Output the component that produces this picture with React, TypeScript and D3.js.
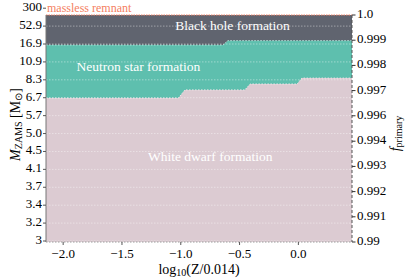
import * as d3 from "d3";

// metallicity breakpoints (log10(Z/0.014)) and upper f_primary edge of each remnant region
const wdLogZ = [-2.146, -1.02, -0.965, -0.455, -0.41, -0.01, 0.03, 0.456];
const wdMaxF = [0.99634, 0.99634, 0.9967, 0.9967, 0.99696, 0.99696, 0.99722, 0.99722];
const nsLogZ = [-2.146, -0.64, -0.6, 0.456];
const nsMaxF = [0.99868, 0.99868, 0.99887, 0.99887];

const xTicks = [-2.0, -1.5, -1.0, -0.5, 0.0];
const massLabels = ["3", "3.2", "3.4", "3.7", "4.1", "4.5", "5.0", "5.7", "6.7", "8.3", "10.9", "16.9", "52.9", "300"];
const fTicks = [0.99, 0.99111, 0.99222, 0.99333, 0.99444, 0.99556, 0.99667, 0.99778, 0.99889, 1.0];
const fLabels = ["0.99", "0.991", "0.992", "0.993", "0.994", "0.996", "0.997", "0.998", "0.999", "1.0"];

const width = 407;
const height = 279;
const margin = { top: 15, right: 55, bottom: 37, left: 46 };
const tf = { fontFamily: "'Liberation Serif', serif" };

const App = () => {
  const x = d3
    .scaleLinear()
    .domain([-2.146, 0.456])
    .range([margin.left, width - margin.right]);
  const y = d3
    .scaleLinear()
    .domain([0.99, 1.0])
    .range([height - margin.bottom, margin.top]);
  const yMass = d3
    .scalePoint()
    .domain(massLabels)
    .range([y(0.99) - 1, y(1.0003)]);

  const wdArea = d3
    .area<number>()
    .x((_, i) => x(wdLogZ[i]))
    .y0(y(0.99))
    .y1((d) => y(d));
  const nsArea = d3
    .area<number>()
    .x((_, i) => x(nsLogZ[i]))
    .y0(y(0.99))
    .y1((d) => y(d));
  const wdLine = d3
    .line<number>()
    .x((_, i) => x(wdLogZ[i]))
    .y((d) => y(d));
  const nsLine = d3
    .line<number>()
    .x((_, i) => x(nsLogZ[i]))
    .y((d) => y(d));

  const [x0, x1] = x.range();

  return (
    <svg
      width={width}
      height={height}
      style={{ position: "absolute", left: 0, top: 0, background: "white" }}
    >
      {/* black hole region fills everything, others drawn above */}
      <rect x={x0} y={y(1.0)} width={x1 - x0} height={y(0.99) - y(1.0)} fill="#60646f" />
      <path d={nsArea(nsMaxF) || ""} fill="#5ebfae" />
      <path d={wdArea(wdMaxF) || ""} fill="#dccbd2" />

      {/* faint grid at mass ticks */}
      {massLabels.slice(0, -1).map((m) => (
        <line
          key={"g" + m}
          x1={x0}
          x2={x1}
          y1={yMass(m)}
          y2={yMass(m)}
          stroke="#ffffff"
          strokeOpacity={0.4}
          strokeDasharray="1.5,1.5"
        />
      ))}

      <path d={nsLine(nsMaxF) || ""} fill="none" stroke="#b9e6dd" strokeDasharray="1.5,1.5" />
      <path d={wdLine(wdMaxF) || ""} fill="none" stroke="#efe6ea" strokeDasharray="1.5,1.5" />
      <line x1={x0} x2={x1} y1={y(1.0)} y2={y(1.0)} stroke="#f4866a" strokeDasharray="1.5,1" />

      {/* spines */}
      <line x1={x0} x2={x0} y1={y(1.0)} y2={y(0.99)} stroke="#777" />
      <line x1={x1} x2={x1} y1={y(1.0)} y2={y(0.99)} stroke="#555" strokeDasharray="3,2" />
      <line x1={x0} x2={x1} y1={y(0.99)} y2={y(0.99)} stroke="#999" strokeDasharray="1.5,1.5" />

      {/* region labels */}
      <text style={tf} x={x(-0.56)} y={y(0.99948)} fill="white" fontSize={13.5} textAnchor="middle" dominantBaseline="middle">
        Black hole formation
      </text>
      <text style={tf} x={x(-1.36)} y={y(0.99767)} fill="white" fontSize={13.5} textAnchor="middle" dominantBaseline="middle">
        Neutron star formation
      </text>
      <text style={tf} x={x(-0.75)} y={y(0.9937)} fill="white" fontSize={13.5} textAnchor="middle" dominantBaseline="middle">
        White dwarf formation
      </text>
      <text style={tf} x={x0 + 1} y={y(1.0) - 6} fill="#f4805f" fontSize={12} dominantBaseline="middle">
        massless remnant
      </text>

      {/* left mass axis */}
      {massLabels.map((m) => (
        <g key={"m" + m}>
          <line x1={x0 - 3} x2={x0} y1={yMass(m)} y2={yMass(m)} stroke="#555" />
          <text style={tf} x={x0 - 4} y={yMass(m)} fontSize={13} textAnchor="end" dominantBaseline="middle">
            {m}
          </text>
        </g>
      ))}

      {/* right f axis */}
      {fTicks.map((f, i) => (
        <g key={"f" + f}>
          <line x1={x1} x2={x1 + 3.5} y1={y(f)} y2={y(f)} stroke="#333" />
          <text style={tf} x={x1 + 5} y={y(f)} fontSize={13} dominantBaseline="middle">
            {fLabels[i]}
          </text>
        </g>
      ))}

      {/* x axis */}
      {xTicks.map((t) => (
        <g key={"x" + t}>
          <line x1={x(t)} x2={x(t)} y1={y(0.99)} y2={y(0.99) + 3} stroke="#555" />
          <text style={tf} x={x(t)} y={y(0.99) + 13} fontSize={13} textAnchor="middle" dominantBaseline="middle">
            {d3.format(".1f")(t).replace("-", "\u2212")}
          </text>
        </g>
      ))}
      <text style={tf} x={(x0 + x1) / 2} y={height - 8} fontSize={14} textAnchor="middle" dominantBaseline="middle">
        log
        <tspan fontSize={10} dy={3}>10</tspan>
        <tspan dy={-3}>(Z/0.014)</tspan>
      </text>

      <text
        style={tf}
        transform={`translate(17,${(y(0.99) + y(1.0)) / 2 - 4}) rotate(-90)`}
        fontSize={14}
        textAnchor="middle"
        dominantBaseline="middle"
      >
        <tspan fontStyle="italic">M</tspan>
        <tspan fontSize={10} dy={3}>ZAMS</tspan>
        <tspan dy={-3}> [M</tspan>
        <tspan fontSize={10} dy={3}>⊙</tspan>
        <tspan dy={-3}>]</tspan>
      </text>
      <text
        style={tf}
        transform={`translate(397,${(y(0.99) + y(1.0)) / 2 + 5}) rotate(-90)`}
        fontSize={14}
        textAnchor="middle"
        dominantBaseline="middle"
      >
        <tspan fontStyle="italic">f</tspan>
        <tspan fontSize={10} dy={3}>primary</tspan>
      </text>
    </svg>
  );
};

export default App;
